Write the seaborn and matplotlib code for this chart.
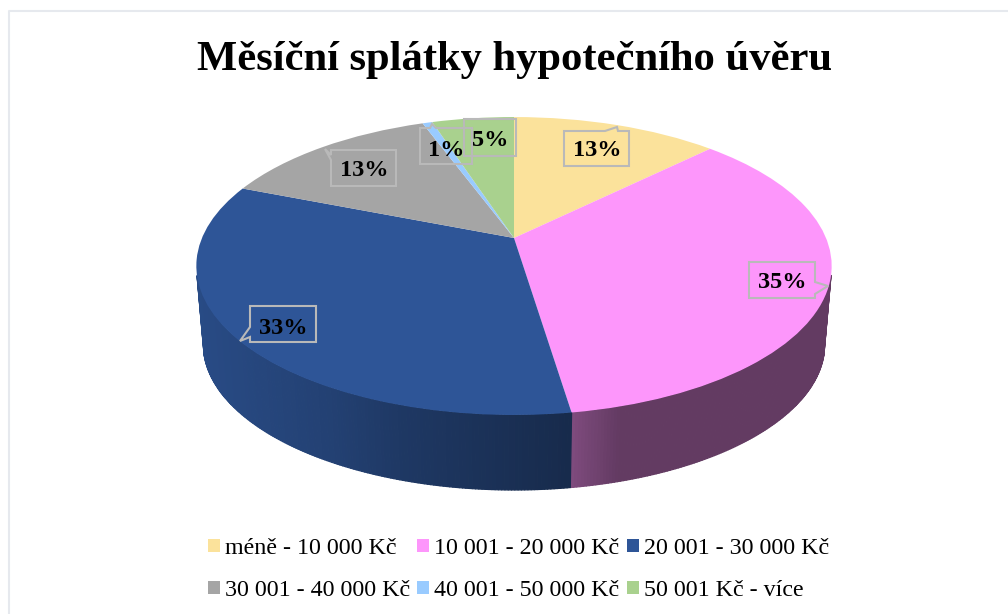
import numpy as np
import matplotlib
matplotlib.use("Agg")
import matplotlib.pyplot as plt
import seaborn as sns
from matplotlib.collections import PolyCollection
from matplotlib.transforms import Transform

# ---- data ----
categories = ["méně - 10 000 Kč", "10 001 - 20 000 Kč", "20 001 - 30 000 Kč",
              "30 001 - 40 000 Kč", "40 001 - 50 000 Kč", "50 001 Kč - více"]
shares = [12.6, 35.0, 33.4, 13.4, 0.6, 5.0]
colors = ["#FBE29B", "#FD96FB", "#2E5597", "#A5A5A5", "#99CBFF", "#A9D18E"]
title = "Měsíční splátky hypotečního úvěru"

# ---- layout (figure pixels) ----
CX, CY = 514.0, 238.0
A, B, K = 312.0, 143.7, 0.188
SCALE, VANISH = 0.978, 3823.0
callouts = [
    [(564, 131), (605, 131), (617, 127), (618, 131), (629, 131), (629, 166), (564, 166)],
    [(749, 262), (815, 262), (815, 282), (828, 286), (815, 294), (815, 298), (749, 298)],
    [(250, 306), (316, 306), (316, 342), (250, 342), (250, 337), (240, 341), (250, 327)],
    [(331, 150), (396, 150), (396, 186), (331, 186), (331, 160), (325, 149), (331, 155)],
    [(420, 128), (430, 128), (432, 124), (436, 128), (472, 128), (472, 164), (420, 164)],
    [(464, 119), (516, 119), (516, 156), (464, 156)],
]
label_pos = [(597, 151), (782, 283), (283, 328), (364, 170), (446, 150), (490, 140)]


class Perspective(Transform):
    """Maps the unit disc of the pie onto the tilted top face, in pixels."""
    input_dims = output_dims = 2
    is_separable = False
    has_inverse = False

    def transform_non_affine(self, xy):
        xy = np.asarray(xy, dtype=float)
        w = 1 + K * xy[:, 1]
        return np.column_stack([CX + A * xy[:, 0] / w, CY - B * xy[:, 1] / w])


sns.set_theme(style="white")
plt.rcParams["font.family"] = ["Liberation Serif", "DejaVu Serif"]
palette = sns.color_palette(colors)

fig = plt.figure(figsize=(10.08, 6.14), dpi=100, facecolor="white")
ax = fig.add_axes([0, 0, 1, 1])

wedges, _ = ax.pie(shares, colors=palette, startangle=90, counterclock=False,
                   radius=1, center=(0, 0), wedgeprops=dict(linewidth=0))
persp = Perspective()
for w in wedges:
    w.set_transform(persp + ax.transData)
    w.set_zorder(3)

ax.set_aspect("auto")
ax.set_xlim(0, 1008)
ax.set_ylim(614, 0)
ax.set_axis_off()

# side wall of the disc, derived from the same shares (front part only)
edges = np.cumsum([0] + shares) / np.sum(shares) * 2 * np.pi
polys, fills = [], []
for i, rgb in enumerate(palette):
    n = max(2, int(np.degrees(edges[i + 1] - edges[i]) * 2))
    t = np.linspace(edges[i], edges[i + 1], n + 1)
    top = persp.transform_non_affine(np.column_stack([np.sin(t), np.cos(t)]))
    bot = np.column_stack([CX + (top[:, 0] - CX) * SCALE,
                           VANISH + (top[:, 1] - VANISH) * SCALE])
    for j in range(n):
        if (top[j, 1] + top[j + 1, 1]) / 2 < 276:
            continue
        polys.append([top[j], top[j + 1], bot[j + 1], bot[j]])
        xm = (top[j, 0] + top[j + 1, 0]) / 2
        s = np.interp(xm, [197, 330, 400, 572, 620, 832],
                      [0.88, 0.76, 0.66, 0.50, 0.39, 0.39])
        fills.append(tuple(np.array(rgb) * s))
ax.add_collection(PolyCollection(polys, facecolors=fills, edgecolors=fills,
                                 linewidths=0.9, zorder=2))

# percentage callouts
for value, outline, (lx, ly) in zip(shares, callouts, label_pos):
    ax.fill(*zip(*outline), facecolor="none", edgecolor="#B9B9B9", linewidth=1.5, zorder=4)
    ax.text(lx, ly, f"{value:.0f}%", ha="center", va="center", fontsize=17.5,
            fontweight="bold", color="black", zorder=5)

ax.text(515, 60, title, ha="center", va="center", fontsize=30.7, fontweight="bold", color="black")

# chart frame
ax.plot([9, 9, 1008], [614, 11, 11], color="#E6E9EE", linewidth=1.5, zorder=1)

# legend fills column by column, so this order reads row by row as in the picture
order = [0, 3, 1, 4, 2, 5]
leg = ax.legend([wedges[i] for i in order], [categories[i] for i in order], ncol=3,
                loc="upper left", bbox_to_anchor=(207.5, 538), bbox_transform=ax.transData,
                frameon=False, fontsize=17.3, borderpad=0, borderaxespad=0,
                handlelength=0.5, handleheight=0.5, handletextpad=0.21,
                columnspacing=0.31, labelspacing=0.87, labelcolor="black")

fig.savefig("out.png", dpi=100)
